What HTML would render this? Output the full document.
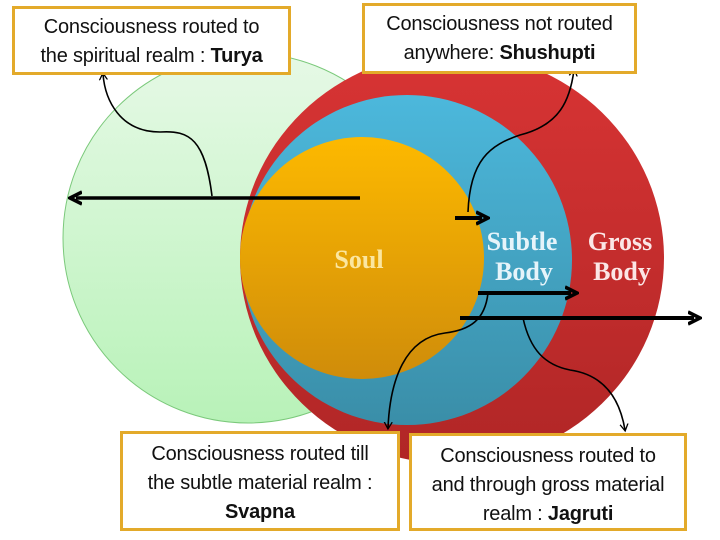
<!DOCTYPE html>
<html><head><style>
body{margin:0;width:720px;height:540px;background:#fff;overflow:hidden;position:relative;font-family:"Liberation Sans",sans-serif}
.b{position:absolute;background:#fff;border:3px solid #e3aa2a;box-sizing:border-box;text-align:center;font-size:20px;line-height:29px;color:#111;white-space:nowrap;letter-spacing:-0.2px}
</style></head><body>
<svg width="720" height="540" style="position:absolute;left:0;top:0">
<defs>
<linearGradient id="g" x1="0" y1="0" x2="0" y2="1"><stop offset="0" stop-color="#e6f9e6"/><stop offset="1" stop-color="#b8f2b8"/></linearGradient>
<linearGradient id="r" x1="0" y1="0" x2="0" y2="1"><stop offset="0" stop-color="#d83434"/><stop offset="1" stop-color="#b02626"/></linearGradient>
<linearGradient id="bl" x1="0" y1="0" x2="0" y2="1"><stop offset="0" stop-color="#4cb8dc"/><stop offset="1" stop-color="#3a8ea8"/></linearGradient>
<linearGradient id="o" x1="0" y1="0" x2="0" y2="1"><stop offset="0" stop-color="#fdb900"/><stop offset="1" stop-color="#cf8c0a"/></linearGradient>
<marker id="a" markerUnits="userSpaceOnUse" markerWidth="10" markerHeight="10" refX="6" refY="5" orient="auto"><path d="M0,1 L7,5 L0,9" fill="none" stroke="#000" stroke-width="1.3"/></marker>
<marker id="s" markerUnits="userSpaceOnUse" markerWidth="14" markerHeight="16" refX="6" refY="8" orient="auto"><path d="M0,2 L12,8 L0,14" fill="none" stroke="#000" stroke-width="3.5"/></marker>
</defs>
<circle cx="248" cy="238" r="185" fill="url(#g)" stroke="#7bc97b" stroke-width="1"/>
<ellipse cx="452" cy="258" rx="212" ry="206" fill="url(#r)"/>
<circle cx="407" cy="260" r="165" fill="url(#bl)"/>
<ellipse cx="362" cy="258" rx="122" ry="121" fill="url(#o)"/>
<text x="359" y="268" font-family="Liberation Serif,serif" font-weight="bold" font-size="26" fill="#fbe6a0" text-anchor="middle">Soul</text>
<text x="522" y="250" font-family="Liberation Serif,serif" font-weight="bold" font-size="26" fill="#e6f4fa" text-anchor="middle">Subtle</text>
<text x="524" y="280" font-family="Liberation Serif,serif" font-weight="bold" font-size="26" fill="#e6f4fa" text-anchor="middle">Body</text>
<text x="620" y="250" font-family="Liberation Serif,serif" font-weight="bold" font-size="26" fill="#fbe6e6" text-anchor="middle">Gross</text>
<text x="622" y="280" font-family="Liberation Serif,serif" font-weight="bold" font-size="26" fill="#fbe6e6" text-anchor="middle">Body</text>
<g stroke="#000" stroke-width="4" fill="none">
<line x1="360" y1="198" x2="76" y2="198" marker-end="url(#s)" stroke-width="3.5"/>
<line x1="455" y1="218" x2="482" y2="218" marker-end="url(#s)"/>
<line x1="478" y1="293" x2="571" y2="293" marker-end="url(#s)"/>
<line x1="460" y1="318" x2="694" y2="318" marker-end="url(#s)"/>
</g>
<g stroke="#000" stroke-width="1.6" fill="none">
<path d="M212,196 C205,140 190,130 160,132 C120,132 105,100 103,74" marker-end="url(#a)"/>
<path d="M468,212 C470,160 490,145 520,135 C560,125 570,100 574,70" marker-end="url(#a)"/>
<path d="M488,293 C485,320 470,330 445,333 C405,338 390,380 388,428" marker-end="url(#a)"/>
<path d="M523,318 C530,350 545,365 570,370 C605,375 620,400 625,430" marker-end="url(#a)"/>
</g>
</svg>
<div class="b" style="left:12px;top:6px;width:279px;height:69px;padding-top:4px">Consciousness routed to<br>the spiritual realm : <b>Turya</b></div>
<div class="b" style="left:362px;top:3px;width:275px;height:71px;padding-top:4px">Consciousness not routed<br>anywhere: <b>Shushupti</b></div>
<div class="b" style="left:120px;top:431px;width:280px;height:100px;padding-top:6px">Consciousness routed till<br>the subtle material realm :<br><b>Svapna</b></div>
<div class="b" style="left:409px;top:433px;width:278px;height:98px;padding-top:6px">Consciousness routed to<br>and through gross material<br>realm : <b>Jagruti</b></div>
</body></html>
